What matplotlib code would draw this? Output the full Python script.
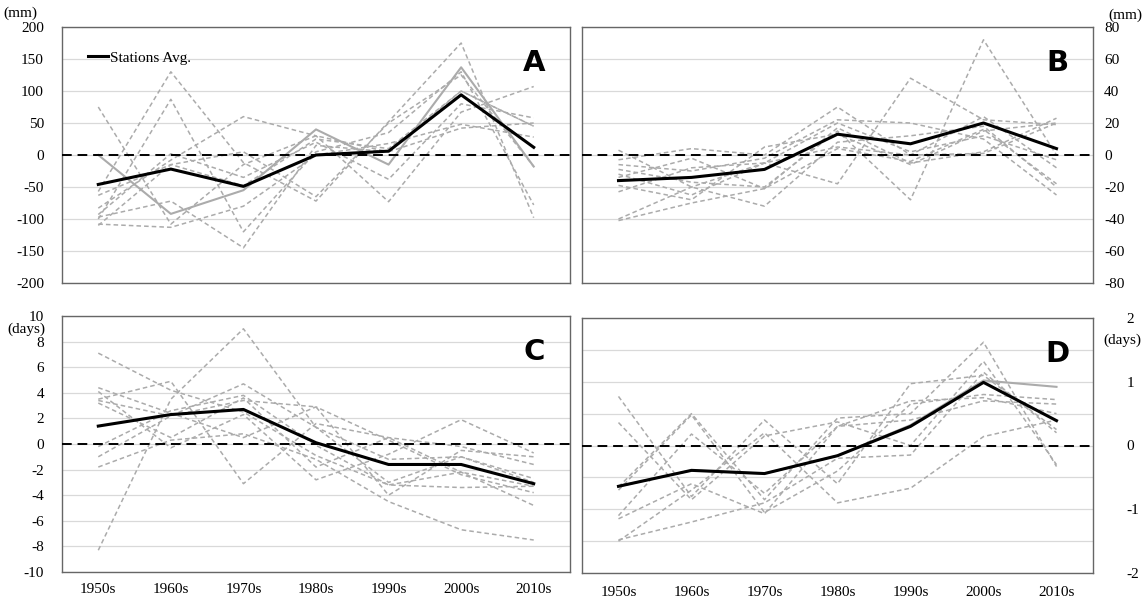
import matplotlib
matplotlib.use('Agg')
import matplotlib.pyplot as plt
import numpy as np

plt.rcParams['font.family'] = ['Liberation Serif', 'DejaVu Serif']
plt.rcParams['axes.unicode_minus'] = False

decades = ['1950s', '1960s', '1970s', '1980s', '1990s', '2000s', '2010s']

# A - precipitation (mm)
avg_a = [-46, -22, -49, 0, 6, 94, 12]
solid_a = [[0, -92, -55, 40, -15, 137, -18]]
dashed_a = [
    [75, -108, -15, 30, 5, 100, 45],
    [-57, 130, -12, -72, 52, 175, -98],
    [-100, 87, -120, 5, 35, 130, -78],
    [-93, 2, -35, 20, -38, 80, 58],
    [-83, -8, 60, 30, -73, 67, 107],
    [-108, -113, -80, 0, 18, 48, 28],
    [-97, -72, -145, 15, 5, 42, 50],
    [-63, -15, 5, -65, 50, 125, -18],
    [-110, -15, -48, 25, 10, 100, 45],
]

# B - precipitation (mm)
avg_b = [-16, -14, -9, 13, 7, 20, 4]
solid_b = []
dashed_b = [
    [-12, -25, -5, -18, 48, 22, 19],
    [-9, -17, -20, 15, -28, 72, 0],
    [3, -20, -32, 8, 12, 18, -20],
    [-3, 4, 0, 30, 0, 24, -8],
    [-6, -10, -2, 22, 20, 10, -25],
    [-14, -2, -21, 17, -5, 2, 23],
    [-19, -28, 5, 13, -6, 15, 20],
    [-23, -8, -5, 20, 2, 12, -3],
    [-40, -20, -5, 5, 0, 1, 20],
    [-41, -30, -21, 4, -4, 16, -18],
]

# C - days
avg_c = [1.4, 2.3, 2.7, 0.1, -1.6, -1.6, -3.1]
solid_c = []
dashed_c = [
    [7.1, 4.2, 2.5, -0.9, -3.2, -2.2, -3.3],
    [-8.3, 3.5, 9.0, 1.3, -1.2, -1.0, -2.7],
    [4.4, 2.4, 0.5, 2.9, 0.3, -2.4, -3.8],
    [3.5, 4.9, -3.1, 1.6, 0.5, -0.2, -1.6],
    [-1.0, 2.2, 4.7, 1.3, -3.0, -1.0, -3.0],
    [-1.8, 0.3, 0.8, -1.2, -4.5, -6.7, -7.5],
    [-0.2, 2.6, 3.8, -0.1, -3.2, -3.4, -3.3],
    [4.1, -0.3, 2.3, -2.8, -0.8, 1.9, -0.7],
    [3.2, 0.5, 3.6, -1.8, 0.5, -2.2, -4.8],
    [3.4, 2.2, 3.4, 2.9, -4.0, -0.5, -1.0],
]

# D - days
avg_d = [-0.64, -0.39, -0.44, -0.16, 0.30, 0.99, 0.39]
solid_d = [[-0.64, -0.39, -0.44, -0.16, 0.32, 1.02, 0.92]]
dashed_d = [
    [0.77, -0.8, 0.4, -0.6, 0.97, 1.1, 0.25],
    [0.36, -0.85, 0.15, 0.37, 0.0, 1.32, -0.3],
    [-0.65, 0.5, -0.85, 0.43, 0.5, 1.62, -0.33],
    [-0.7, 0.48, -1.05, -0.4, 0.65, 0.8, 0.72],
    [-1.1, 0.18, -0.75, 0.3, 0.4, 0.7, 0.65],
    [-1.5, -0.7, 0.2, -0.9, -0.67, 0.14, 0.4],
    [-1.48, -1.2, -0.9, -0.2, -0.15, 1.15, 0.2],
    [-1.15, -0.6, -1.07, 0.3, 0.7, 0.75, 0.5],
]

yticks_a = [-200, -150, -100, -50, 0, 50, 100, 150, 200]
yticks_b = [-80, -60, -40, -20, 0, 20, 40, 60, 80]
yticks_c = [-10, -8, -6, -4, -2, 0, 2, 4, 6, 8, 10]
yticks_d = [-2, -1.5, -1, -0.5, 0, 0.5, 1, 1.5, 2]
ylabels_d = ['-2', '', '-1', '', '0', '', '1', '', '2']

fig = plt.figure(figsize=(11.45, 5.98), dpi=100)
W, H = 1145, 598

def box(l, t, r, b):
    return [l / W, 1 - b / H, (r - l) / W, (b - t) / H]

ax_a = fig.add_axes(box(62, 27, 570, 283))
ax_b = fig.add_axes(box(582, 27, 1093, 283))
ax_c = fig.add_axes(box(62, 316, 570, 572))
ax_d = fig.add_axes(box(582, 318, 1093, 573))

x = np.arange(len(decades))
gray = '#ababab'

panels = [
    (ax_a, avg_a, solid_a, dashed_a, yticks_a, None, 'A', False),
    (ax_b, avg_b, solid_b, dashed_b, yticks_b, None, 'B', True),
    (ax_c, avg_c, solid_c, dashed_c, yticks_c, None, 'C', False),
    (ax_d, avg_d, solid_d, dashed_d, yticks_d, ylabels_d, 'D', True),
]

for ax, avg, solid, dashed, yt, yl, letter, right in panels:
    for s in dashed:
        ax.plot(x, s, color=gray, lw=1.1, dashes=(3, 2), zorder=2)
    for s in solid:
        ax.plot(x, s, color=gray, lw=1.5, zorder=2)
    ax.plot(x, avg, color='black', lw=2.2, zorder=4, label='Stations Avg.')
    ax.axhline(0, color='black', lw=1.4, dashes=(5, 3), zorder=3)
    ax.set_xlim(-0.5, 6.5)
    ax.set_ylim(yt[0], yt[-1])
    ax.set_yticks(yt)
    if yl is not None:
        ax.set_yticklabels(yl)
    ax.grid(axis='y', color='#d9d9d9', lw=0.9)
    ax.set_axisbelow(True)
    for sp in ax.spines.values():
        sp.set_color('#666666')
        sp.set_linewidth(1.0)
    ax.tick_params(length=0, labelsize=11)
    if right:
        ax.yaxis.tick_right()
    ax.set_xticks(x)
    ax.text(0.93, 0.86, letter, transform=ax.transAxes, ha='center', va='center',
            fontsize=21, fontweight='bold', family=['Liberation Sans Narrow', 'DejaVu Sans'])

ax_a.set_xticklabels([])
ax_b.set_xticklabels([])
ax_c.set_xticklabels(decades)
ax_d.set_xticklabels(decades)
ax_a.tick_params(axis='y', pad=13)
ax_c.tick_params(axis='y', pad=13)
ax_b.tick_params(axis='y', pad=8)
ax_d.tick_params(axis='y', pad=24)
ax_c.tick_params(axis='x', pad=8)
ax_d.tick_params(axis='x', pad=9)

ax_a.legend(loc='upper left', frameon=False, fontsize=11, handlelength=1.3,
            handletextpad=0.1, bbox_to_anchor=(0.025, 0.96))

fig.text(20 / W, 1 - 13 / H, '(mm)', fontsize=11, ha='center', va='center')
fig.text(1125 / W, 1 - 15 / H, '(mm)', fontsize=11, ha='center', va='center')
fig.text(26 / W, 1 - 329 / H, '(days)', fontsize=11, ha='center', va='center')
fig.text(1122 / W, 1 - 340 / H, '(days)', fontsize=11, ha='center', va='center')

fig.savefig('out.png', dpi=100)
